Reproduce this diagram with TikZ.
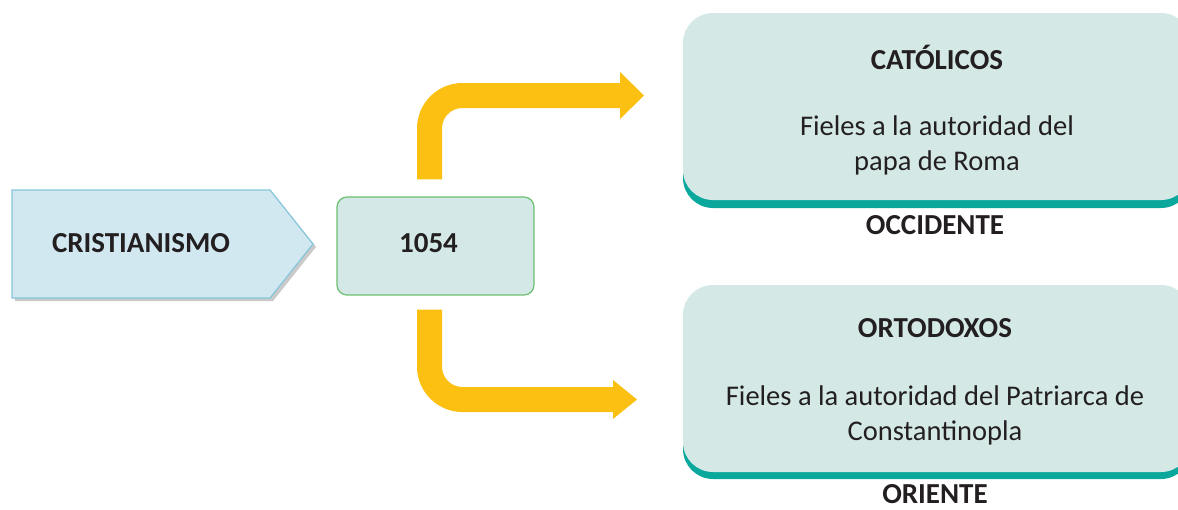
\documentclass[tikz,border=0pt]{standalone}
\usepackage{fontspec}
\setmainfont{Carlito}
\definecolor{txt}{HTML}{231F20}
\definecolor{crisfill}{HTML}{D2E8F1}
\definecolor{crisline}{HTML}{86C6DA}
\definecolor{yearfill}{HTML}{D4E9E7}
\definecolor{yearline}{HTML}{6CBF6F}
\definecolor{boxfill}{HTML}{D4E9E6}
\definecolor{teal}{HTML}{0AA79D}
\definecolor{gold}{HTML}{FBC012}
\tikzset{
  bigtxt/.style={font=\fontsize{28.5}{35}\selectfont, text=txt},
  boldtxt/.style={font=\fontsize{29}{35}\selectfont\bfseries, text=txt},
  branch/.style={draw=gold, line width=25pt, rounded corners=33pt, line cap=butt},
  headtip/.style={fill=gold, draw=none},
  infobox/.style={fill=boxfill, draw=none, rounded corners=30pt},
  infoshadow/.style={fill=teal, draw=none, rounded corners=30pt},
}
\begin{document}
\begin{tikzpicture}[x=1pt,y=-1pt]
\useasboundingbox (0,0) rectangle (1178,509);
\clip (0,0) rectangle (1178,509);
% CRISTIANISMO pointer shape
\fill[black!35, opacity=0.6] (15,193) -- (273,193) -- (316,247) -- (273,301) -- (15,301) -- cycle;
\draw[fill=crisfill, draw=crisline, line width=1.2pt] (12,190) -- (270,190) -- (313,244) -- (270,298) -- (12,298) -- cycle;
\node[boldtxt] (cris) at (141,243) {CRISTIANISMO};
% 1054 box
\node[boldtxt, fill=yearfill, draw=yearline, line width=1.2pt, rounded corners=10pt,
      minimum width=197pt, minimum height=98pt, inner sep=0pt] (year) at (435.5,246) {};
\node[boldtxt] (yeartxt) at (428.5,243) {1054};
% right boxes
\fill[infoshadow] (683,21) rectangle (1191,208);
\fill[infobox] (683,13) rectangle (1191,200);
\node[boldtxt] (cat) at (937,57) {CATÓLICOS};
\node[bigtxt, align=center] (catdesc) at (937,145) {Fieles a la autoridad del\\papa de Roma};
\node[boldtxt] (occ) at (935,225) {OCCIDENTE};
\fill[infoshadow] (683,292) rectangle (1191,479);
\fill[infobox] (683,285) rectangle (1191,472);
\node[boldtxt] (orto) at (935,328) {ORTODOXOS};
\node[bigtxt, align=center] (ortodesc) at (935,415) {Fieles a la autoridad del Patriarca de\\Constantinopla};
\node[boldtxt, inner sep=0pt] (ori) at (935,494) {ORIENTE};
% connectors
\coordinate (catin) at (621,95.5);
\coordinate (ortoin) at (614,399.5);
\draw[branch] ([xshift=-6pt,yshift=17pt]year.north) |- (catin);
\fill[headtip] (620,72) -- (644,95.5) -- (620,119) -- cycle;
\draw[branch] ([xshift=-6pt,yshift=-14pt]year.south) |- (ortoin);
\fill[headtip] (613,380) -- (637,399.5) -- (613,419) -- cycle;
\end{tikzpicture}
\end{document}
